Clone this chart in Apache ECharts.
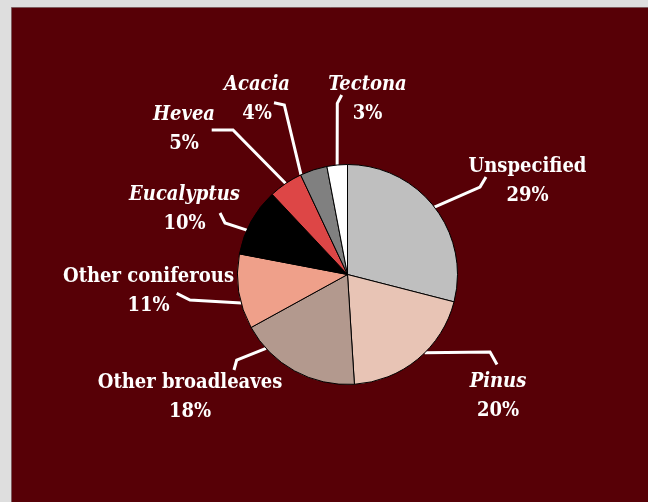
<!DOCTYPE html>
<html>
<head>
<meta charset="utf-8">
<script src="https://cdn.jsdelivr.net/npm/echarts@6/dist/echarts.min.js"></script>
<style>
  html, body { margin: 0; padding: 0; background: #dedede; }
  #chart { width: 648px; height: 502px; }
</style>
</head>
<body>
<div id="chart"></div>
<script>
// Plantation area by genus (share of total, %)
const genera = ['Unspecified', 'Pinus', 'Other broadleaves', 'Other coniferous',
                'Eucalyptus', 'Hevea', 'Acacia', 'Tectona'];
const shares = [29, 20, 18, 11, 10, 5, 4, 3];
const italicName = [false, true, false, false, true, true, true, true];
const sliceColors = ['#bfbfbf', '#e8c4b5', '#b3998e', '#efa08a',
                     '#000000', '#dd4646', '#808080', '#ffffff'];

// Pie geometry and label placement (offsets from the pie centre, px)
const CX = 347.5, CY = 274.5, R = 110;
const labelSpot = [[180, -93], [150.5, 122], [-157.5, 123], [-199, 17],
                   [-163, -65.5], [-163.5, -145.5], [-90.5, -175.5], [20, -175.5]];
const anchorNudge = [0, -5, 19, -6, -5, 0, -7, 0];   // degrees along the rim
const leaderBends = [
  [[132.5, -87.5], [138.5, -97.5]],
  [[142.5, 77.5], [149.5, 90]],
  [[-110.8, 85.5], [-113.5, 95.5]],
  [[-157.5, 25.5], [-170.8, 18.8]],
  [[-122.5, -51.5], [-127.5, -61.5]],
  [[-114.5, -144.5], [-135.8, -144.5]],
  [[-63.2, -169.5], [-73.5, -171.8]],
  [[-10.2, -171.2], [-5.8, -179.5]]
];

const total = shares.reduce((a, b) => a + b, 0);
const midAngles = [];
let acc = 0;
shares.forEach(v => { midAngles.push((acc + v / 2) / total * 360); acc += v; });

const FONT = '"DejaVu Serif Condensed", "DejaVu Serif", serif';
const textBase = { fontFamily: FONT, fontSize: 20, fontWeight: 'bold', color: '#fff', lineHeight: 29, align: 'center' };

const chart = echarts.init(document.getElementById('chart'), null, { renderer: 'canvas' });
chart.setOption({
  backgroundColor: '#dedede',
  animation: false,
  graphic: [{
    type: 'rect', z: -10, silent: true,
    shape: { x: 11.5, y: 7.5, width: 700, height: 600 },
    style: { fill: '#570006', stroke: '#7d5c5e', lineWidth: 1 }
  }],
  series: [{
    type: 'pie',
    center: [CX, CY],
    radius: R,
    startAngle: 90,
    clockwise: true,
    avoidLabelOverlap: false,
    emphasis: { disabled: true },
    itemStyle: { borderColor: '#000', borderWidth: 1 },
    data: genera.map((g, i) => ({
      name: g, value: shares[i], itemStyle: { color: sliceColors[i] }
    })),
    label: {
      show: true,
      position: 'outside',
      color: '#ffffff',
      formatter: p => (italicName[p.dataIndex] ? '{it|' : '{rm|') + p.name + '}\n{num|' + p.value + '%}',
      rich: {
        it: Object.assign({}, textBase, { fontStyle: 'italic' }),
        rm: Object.assign({}, textBase),
        num: Object.assign({}, textBase)
      }
    },
    labelLine: {
      show: true, length: 10, length2: 10, smooth: false,
      lineStyle: { color: '#ffffff', width: 3, join: 'miter' }
    },
    labelLayout: function (params) {
      const i = params.dataIndex;
      const a = (midAngles[i] + anchorNudge[i]) * Math.PI / 180;
      const anchor = [CX + R * Math.sin(a), CY - R * Math.cos(a)];
      const pts = [anchor].concat(leaderBends[i].map(b => [CX + b[0], CY + b[1]]));
      return {
        x: CX + labelSpot[i][0],
        y: CY + labelSpot[i][1],
        align: 'center',
        verticalAlign: 'middle',
        labelLinePoints: pts
      };
    }
  }]
});
</script>
</body>
</html>
